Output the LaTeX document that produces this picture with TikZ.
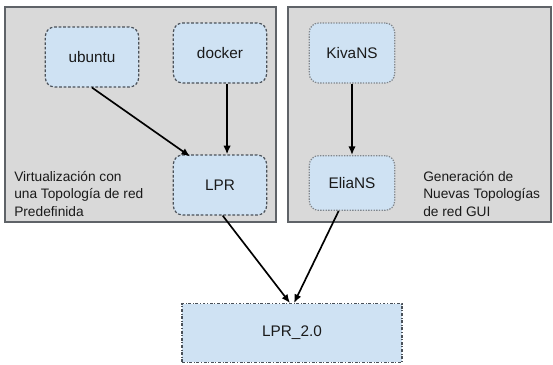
\documentclass[tikz,border=0pt]{standalone}
\usepackage{fontspec}
\setmainfont{Liberation Sans}
\usepackage{xcolor}
\usepackage{tikz}
\usetikzlibrary{arrows.meta}
\definecolor{panelgray}{HTML}{D9D9D9}
\definecolor{paneledge}{HTML}{5F6368}
\definecolor{boxblue}{HTML}{CFE2F3}
\definecolor{boxedge}{HTML}{4A5159}
\definecolor{ink}{HTML}{1A1A1A}
\tikzset{
  panel/.style={draw=paneledge,fill=panelgray,line width=0.9pt},
  vbox/.style={draw=boxedge,fill=boxblue,rounded corners=7pt,line width=0.9pt,
    dash pattern=on 2pt off 1.4pt,text=ink,font=\fontsize{11.5}{13}\selectfont,
    minimum width=70pt,minimum height=45pt,inner sep=2pt},
  gbox/.style={vbox,draw=boxedge!70,dash pattern=on 1pt off 1pt,minimum width=64pt},
  mainbox/.style={draw=boxedge,fill=boxblue,line width=0.9pt,
    dash pattern=on 2.2pt off 1.3pt on 0.6pt off 1.3pt,text=ink,
    font=\fontsize{11.5}{13}\selectfont,minimum width=165pt,minimum height=44pt},
  note/.style={anchor=west,align=left,text=ink,font=\fontsize{10.3}{12.8}\selectfont,inner sep=0pt},
  flow/.style={-{Latex[length=6.5pt,width=5.5pt]},line width=1.25pt,black}
}

\begin{document}
\begin{tikzpicture}[x=0.75pt,y=-0.75pt]
  \useasboundingbox (0,0) rectangle (553,364);
  % the two grey areas
  \draw[panel] (5,7) rectangle (276,222);
  \draw[panel] (288,7) rectangle (551,222);
  \node[note] (virt) at (14,194) {Virtualización con\\una Topología de red\\Predefinida};
  \node[note] (gen) at (423,194) {Generación de\\Nuevas Topologías\\de red GUI};
  % boxes
  \node[vbox] (ubuntu) at (92,57) {ubuntu};
  \node[vbox] (docker) at (220,53) {docker};
  \node[vbox] (lpr) at (220,185) {LPR};
  \node[gbox] (kiva) at (352,53) {KivaNS};
  \node[gbox,minimum height=41pt] (elia) at (352,183) {EliaNS};
  \node[mainbox] (lpr2) at (292,333) {LPR\_2.0};
  % arrows
  \draw[flow] (ubuntu.south) -- ([xshift=13pt,yshift=-1.5pt]lpr.north west);
  \draw[flow] ([xshift=5.3pt]docker.south) -- ([xshift=5.3pt]lpr.north);
  \draw[flow] (kiva) -- (elia);
  \draw[flow] ([xshift=2pt]lpr.south) -- ([xshift=-1.5pt]lpr2.north);
  \draw[flow] ([xshift=-10pt]elia.south) -- ([xshift=1.5pt]lpr2.north);
\end{tikzpicture}
\end{document}
